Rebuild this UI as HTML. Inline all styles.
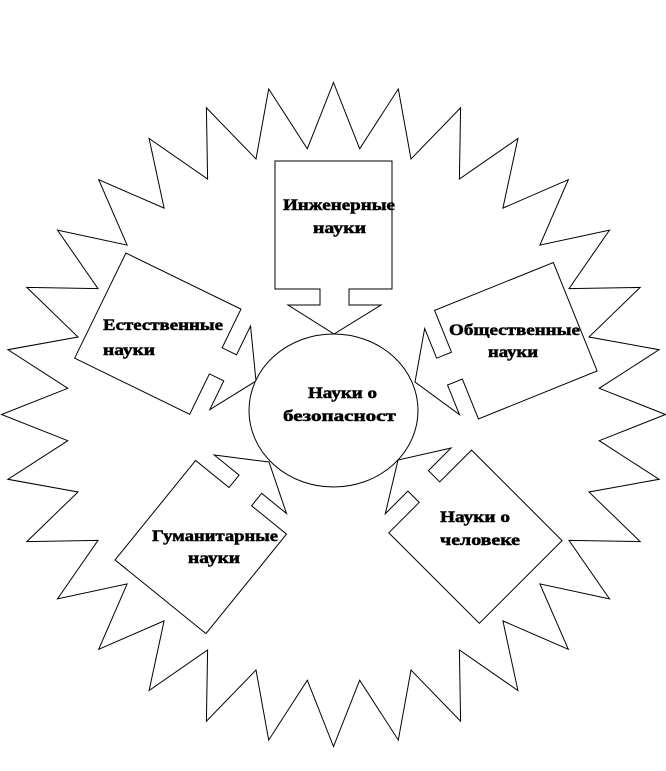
<!DOCTYPE html>
<html><head><meta charset="utf-8"><style>
html,body{margin:0;padding:0;background:#fff;}
svg{display:block;}
text{font-family:"Liberation Serif",serif;font-weight:bold;font-size:16px;fill:#000;stroke:#000;stroke-width:0.5;}
</style></head><body>
<svg id="s" width="666" height="771" viewBox="0 0 666 771" xmlns="http://www.w3.org/2000/svg">
<polygon id="star" fill="#fff" stroke="#000" stroke-width="1" points=""/>
<defs>
<polygon id="co" points="-59,-173 58,-173 58,-45 15,-45 15,-29 47,-29 0,0 -46,-29 -14,-29 -14,-45 -59,-45"/>
<clipPath id="cc"><rect x="0" y="0" width="396" height="771"/></clipPath>
</defs>
<g fill="#fff" stroke="#000" stroke-width="1">
<use href="#co" transform="translate(334,334)"/>
<use href="#co" transform="translate(256,381) rotate(-64)"/>
<use href="#co" transform="translate(415,382) rotate(68)"/>
<use href="#co" transform="translate(269,462) rotate(-141)"/>
<use href="#co" transform="translate(398,460) rotate(135)"/>
<ellipse cx="333.5" cy="410.5" rx="84.5" ry="76.5"/>
</g>
<text x="283" y="210" textLength="112" lengthAdjust="spacingAndGlyphs">Инженерные</text>
<text x="313" y="233" textLength="53" lengthAdjust="spacingAndGlyphs">науки</text>
<text x="103" y="330" textLength="120" lengthAdjust="spacingAndGlyphs">Естественные</text>
<text x="103" y="355" textLength="52" lengthAdjust="spacingAndGlyphs">науки</text>
<text x="449" y="335" textLength="131" lengthAdjust="spacingAndGlyphs">Общественные</text>
<text x="488" y="357" textLength="50" lengthAdjust="spacingAndGlyphs">науки</text>
<text x="308" y="398" textLength="69" lengthAdjust="spacingAndGlyphs">Науки о</text>
<g clip-path="url(#cc)"><text x="283" y="421" textLength="125" lengthAdjust="spacingAndGlyphs">безопасности</text></g>
<text x="152" y="541" textLength="126" lengthAdjust="spacingAndGlyphs">Гуманитарные</text>
<text x="188" y="563" textLength="52" lengthAdjust="spacingAndGlyphs">науки</text>
<text x="440" y="522" textLength="70" lengthAdjust="spacingAndGlyphs">Науки о</text>
<text x="440" y="545" textLength="80" lengthAdjust="spacingAndGlyphs">человеке</text>
</svg>
<script>
var cx=333.5,cy=414.5,R=332,r=267,p=[];
for(var i=0;i<64;i++){var a=i*Math.PI/32,rr=(i%2?r:R);
p.push((cx+rr*Math.sin(a)).toFixed(1)+","+(cy-rr*Math.cos(a)).toFixed(1));}
document.getElementById("star").setAttribute("points",p.join(" "));
</script>
</body></html>
